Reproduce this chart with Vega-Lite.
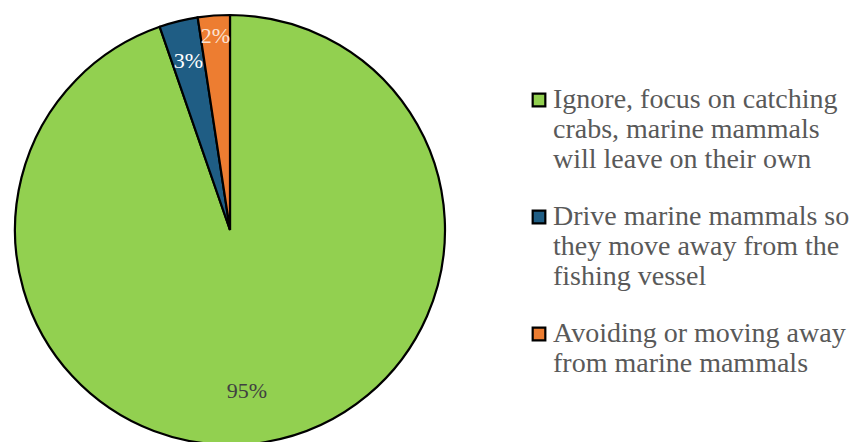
{
  "$schema": "https://vega.github.io/schema/vega-lite/v6.json",
  "width": 430,
  "height": 430,
  "padding": {"left": 10, "top": 10, "right": 0, "bottom": 0},
  "background": "white",
  "data": {
    "values": [
      {"response": "Ignore, focus on catching|crabs, marine mammals|will leave on their own", "share": 94.7, "pct": "95%", "rank": 1},
      {"response": "Drive marine mammals so|they move away from the|fishing vessel", "share": 2.9, "pct": "3%", "rank": 2},
      {"response": "Avoiding or moving away|from marine mammals", "share": 2.4, "pct": "2%", "rank": 3}
    ]
  },
  "encoding": {
    "theta": {"field": "share", "type": "quantitative", "stack": true},
    "order": {"field": "rank", "type": "ordinal"}
  },
  "layer": [
    {
      "mark": {"type": "arc", "outerRadius": 215, "stroke": "black", "strokeWidth": 2.2},
      "encoding": {
        "color": {
          "field": "response",
          "type": "nominal",
          "scale": {
            "domain": [
              "Ignore, focus on catching|crabs, marine mammals|will leave on their own",
              "Drive marine mammals so|they move away from the|fishing vessel",
              "Avoiding or moving away|from marine mammals"
            ],
            "range": ["#92D050", "#1F5D84", "#ED7D31"]
          },
          "legend": {
            "title": null,
            "orient": "none",
            "legendX": 510,
            "legendY": 71,
            "labelExpr": "split(datum.label, '|')",
            "labelFont": "Liberation Serif",
            "labelFontSize": 28,
            "labelLineHeight": 34,
            "labelColor": "#595959",
            "labelLimit": 0,
            "labelOffset": 0,
            "symbolType": "square",
            "symbolSize": 160,
            "symbolStrokeColor": "black",
            "symbolStrokeWidth": 2.2,
            "symbolOpacity": 1,
            "rowPadding": 29
          }
        }
      }
    },
    {
      "mark": {"type": "text", "font": "Liberation Serif", "fontSize": 22, "radius": 163, "dx": -10, "color": "#404040"},
      "encoding": {
        "text": {"condition": {"test": "datum.rank == 1", "field": "pct"}, "value": ""}
      }
    },
    {
      "mark": {"type": "text", "font": "Liberation Serif", "fontSize": 22, "radius": 174, "color": "#FFFFFF"},
      "encoding": {
        "text": {"condition": {"test": "datum.rank == 2", "field": "pct"}, "value": ""}
      }
    },
    {
      "mark": {"type": "text", "font": "Liberation Serif", "fontSize": 22, "radius": 195, "color": "#FBE3D3"},
      "encoding": {
        "text": {"condition": {"test": "datum.rank == 3", "field": "pct"}, "value": ""}
      }
    }
  ],
  "config": {"view": {"stroke": null}}
}
